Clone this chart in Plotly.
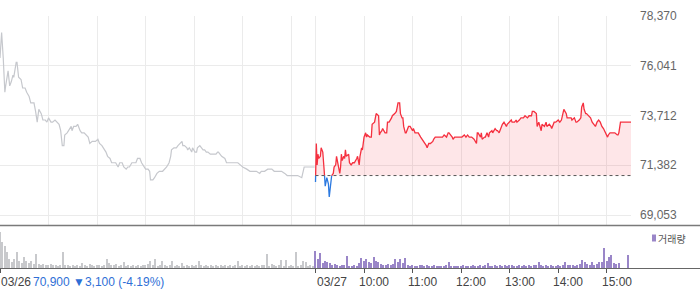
import plotly.graph_objects as go

# ---------------- data ----------------
PREV_CLOSE = 70900
SESSION_MIN = 390  # 09:00-15:30

# 03/26 (minutes after 09:00, price)
day1_min = [0, 2, 4, 6, 7, 10, 12, 14, 16, 17,
            20, 21, 23, 26, 28, 31, 33, 36, 38, 39,
            42, 44, 46, 48, 51, 53, 56, 58, 60, 63,
            65, 68, 70, 73, 75, 77, 79, 80, 83, 85,
            88, 89, 91, 94, 96, 99, 101, 104, 106, 109,
            111, 114, 116, 118, 121, 123, 126, 128, 131, 133,
            136, 138, 141, 143, 146, 148, 151, 153, 156, 158,
            160, 163, 165, 168, 170, 173, 175, 178, 180, 183,
            185, 186, 189, 191, 194, 197, 201, 206, 209, 211,
            212, 215, 218, 220, 222, 225, 226, 228, 231, 232,
            234, 237, 238, 241, 243, 244, 247, 249, 251, 253,
            255, 257, 260, 263, 267, 269, 270, 274, 278, 280,
            284, 288, 293, 294, 297, 300, 305, 309, 312, 317,
            321, 323, 327, 331, 336, 339, 343, 348, 352, 355,
            360, 364, 368, 373, 374, 376, 380, 386, 389]
day1_price = [76400, 77600, 76400, 74800, 75100, 75800, 75100, 75300, 75600, 75500,
              76200, 76200, 75500, 75400, 75000, 75000, 74800, 74600, 74300, 74300,
              74300, 73900, 73400, 74000, 73800, 73500, 73500, 73400, 73600, 73400,
              73400, 73500, 73400, 73300, 73000, 72300, 72300, 72800, 72900, 73000,
              73200, 73000, 73200, 73200, 73300, 73000, 72900, 72900, 72800, 72700,
              72400, 72500, 72500, 72500, 72600, 72400, 72300, 72200, 72000, 71800,
              71700, 71500, 71500, 71500, 71300, 71500, 71500, 71300, 71200, 71300,
              71300, 71500, 71500, 71500, 71700, 71700, 71500, 71300, 71200, 71200,
              71100, 70700, 70700, 70800, 71000, 71100, 71100, 71300, 71500, 71800,
              72100, 72200, 72200, 72300, 72400, 72500, 72300, 72300, 72200, 72100,
              72200, 72000, 72200, 72000, 72000, 72200, 72300, 72200, 72100, 72100,
              72000, 72000, 71900, 71900, 71900, 72000, 72000, 71800, 71700, 71500,
              71500, 71500, 71500, 71500, 71400, 71300, 71200, 71100, 71100, 71100,
              71000, 71100, 71100, 71200, 71200, 71100, 71100, 71100, 71000, 70900,
              70900, 70900, 70900, 70800, 71000, 71300, 71300, 71300, 71300]

# 03/27
day2_min = [0, 1, 2, 3, 4, 6, 7, 9, 10, 11,
            12, 14, 15, 16, 17, 19, 20, 22, 23, 25,
            26, 27, 28, 30, 31, 32, 33, 35, 36, 37,
            38, 41, 42, 44, 46, 48, 51, 52, 54, 55,
            57, 58, 60, 62, 63, 64, 67, 69, 70, 73,
            75, 78, 79, 80, 82, 83, 86, 88, 89, 91,
            94, 95, 98, 100, 102, 104, 105, 107, 108, 109,
            111, 112, 115, 117, 120, 121, 123, 125, 127, 130,
            132, 133, 137, 138, 140, 142, 145, 146, 148, 151,
            154, 157, 159, 162, 164, 165, 169, 170, 172, 174,
            175, 178, 180, 181, 184, 186, 188, 190, 193, 196,
            199, 200, 201, 204, 205, 206, 209, 210, 212, 214,
            215, 218, 219, 222, 224, 225, 227, 230, 231, 233,
            236, 237, 239, 242, 243, 246, 248, 249, 252, 254,
            257, 259, 262, 264, 267, 268, 270, 273, 274, 276,
            279, 280, 283, 285, 286, 289, 291, 292, 295, 297,
            300, 302, 304, 305, 307, 310, 311, 314, 316, 317,
            320, 322, 323, 326, 328, 329, 331, 332, 334, 335,
            338, 340, 342, 344, 346, 348, 350, 352, 354, 356,
            359, 361, 362, 364, 366, 368, 370, 373, 374, 375,
            377, 379, 384, 390]
day2_price = [70600, 72400, 71400, 71900, 71700, 71800, 72200, 72000, 71500, 71000,
              70400, 70800, 70600, 70500, 69900, 70800, 70900, 71000, 71300, 71400,
              71800, 71600, 71300, 71000, 71300, 71900, 71600, 71800, 71700, 72100,
              71800, 71900, 71500, 71400, 71500, 71500, 71700, 71800, 71400, 71800,
              72200, 72100, 72700, 72900, 72700, 72800, 72700, 72700, 73300, 73400,
              73800, 73700, 72800, 72900, 73000, 73100, 72900, 72900, 73400, 73400,
              73600, 73700, 73800, 73900, 74300, 74300, 73800, 73600, 73600, 73200,
              72900, 72900, 73200, 73200, 73000, 73100, 72900, 72900, 72900, 72700,
              72600, 72500, 72300, 72200, 72400, 72400, 72500, 72600, 72700, 72700,
              72700, 72700, 72800, 72700, 72900, 72900, 72700, 72600, 72700, 72700,
              72700, 72700, 72700, 72700, 72800, 72700, 72800, 72700, 72700, 72600,
              72400, 72900, 72900, 72700, 72900, 72600, 72700, 72700, 72900, 72700,
              72900, 73000, 72900, 73100, 73000, 73000, 72900, 73200, 73300, 73400,
              73200, 73300, 73400, 73500, 73400, 73400, 73500, 73400, 73500, 73600,
              73600, 73700, 73600, 73700, 73700, 73900, 73900, 73800, 73200, 73400,
              73000, 73300, 73200, 73400, 73200, 73300, 73200, 73100, 73400, 73400,
              73500, 73400, 73500, 73700, 74000, 73800, 73600, 73600, 73600, 73500,
              73600, 73400, 73400, 73500, 73600, 74100, 74300, 74000, 73800, 73800,
              73700, 73600, 73400, 73300, 73200, 73400, 73500, 73400, 73200, 73100,
              72900, 72700, 72800, 72900, 72900, 72900, 72900, 72800, 72800, 72900,
              73400, 73400, 73400, 73400]

# volume (thousand shares), one bar per 3 minutes
VOL_STEP = 3
vol_day1 = [720, 520, 440, 320, 180, 120, 180, 320, 140, 100,
            220, 140, 100, 140, 80, 280, 80, 60, 80, 60,
            60, 80, 60, 60, 40, 60, 320, 60, 60, 40,
            60, 40, 60, 40, 100, 60, 40, 80, 60, 40,
            60, 60, 40, 60, 180, 100, 60, 60, 80, 40,
            60, 120, 40, 60, 40, 60, 40, 60, 40, 60,
            60, 80, 140, 60, 180, 40, 60, 140, 60, 40,
            60, 140, 40, 60, 40, 100, 40, 60, 40, 60,
            40, 60, 140, 60, 40, 60, 40, 60, 40, 60,
            40, 60, 40, 60, 40, 60, 40, 60, 140, 40,
            60, 40, 60, 40, 60, 40, 60, 40, 60, 60,
            280, 40, 80, 60, 40, 60, 160, 40, 160, 40,
            60, 40, 320, 40, 60, 140, 120, 40, 60, 40]
vol_day2 = [340, 180, 300, 100, 140, 120, 100, 60, 80, 60,
            40, 60, 60, 240, 40, 40, 60, 40, 100, 200,
            140, 180, 120, 100, 220, 140, 120, 80, 60, 60,
            80, 60, 80, 180, 120, 180, 100, 200, 60, 40,
            60, 40, 40, 60, 60, 40, 60, 40, 40, 60,
            40, 40, 40, 40, 60, 120, 40, 40, 40, 40,
            40, 60, 40, 40, 40, 60, 40, 40, 60, 40,
            60, 100, 40, 40, 60, 40, 60, 40, 60, 40,
            60, 60, 40, 40, 60, 40, 60, 40, 60, 40,
            60, 60, 120, 60, 40, 60, 40, 60, 40, 40,
            60, 40, 60, 120, 60, 60, 60, 40, 60, 80,
            160, 120, 80, 60, 120, 60, 80, 120, 120, 400,
            140, 220, 260, 100, 80, 100, 0, 0, 0, 260]

ytick_vals = [69053, 71382, 73712, 76041, 78370]
xtick_min = [0, 390, 450, 510, 570, 630, 690, 750]
xtick_text = ["03/26", "03/27", "10:00", "11:00", "12:00", "13:00", "14:00", "15:00"]
price_label = "70,900 ▼3,100 (-4.19%)"
legend_label = "거래량"

# ---------------- colours / geometry ----------------
W, H = 700, 289
ML, MR, MT, MB = 0, 69, 16, 21
PW, PH = W - ML - MR, H - MT - MB
MAIN_BOTTOM_PX = 225


def px_x(px):
    return (px - ML) / PW


def px_y(py):
    return (H - MB - py) / PH


RED = "#f5303f"
BLUE = "#2b79e0"
GRAY = "#c6c8cd"
PURPLE = "#9a86c8"
VGRAY = "#c8c9cc"
GRID = "#ebebeb"

x1 = list(day1_min)
x2 = [SESSION_MIN + m for m in day2_min]


def split_by_base(xs, ys, base):
    """Split a polyline into above/below runs, inserting the crossing points."""
    rx, ry, bx, by = [], [], [], []
    ax, ay = [], []
    def side(v):
        return v >= base
    cur = side(ys[0])
    tgt = (rx, ry) if cur else (bx, by)
    tgt[0].append(xs[0]); tgt[1].append(ys[0])
    ax.append(xs[0]); ay.append(ys[0])
    for i in range(1, len(xs)):
        s = side(ys[i])
        if s != cur:
            x0, y0, xx, yy = xs[i - 1], ys[i - 1], xs[i], ys[i]
            xc = x0 + (base - y0) * (xx - x0) / (yy - y0)
            tgt[0].append(xc); tgt[1].append(base)
            tgt[0].append(None); tgt[1].append(None)
            cur = s
            tgt = (rx, ry) if cur else (bx, by)
            tgt[0].append(xc); tgt[1].append(base)
            ax.append(xc); ay.append(base)
        tgt[0].append(xs[i]); tgt[1].append(ys[i])
        ax.append(xs[i]); ay.append(ys[i])
    return rx, ry, bx, by, ax, ay


rx, ry, bx, by, ax, ay = split_by_base(x2, day2_price, PREV_CLOSE)

fig = go.Figure()

fig.add_trace(go.Scatter(x=x1, y=day1_price, mode="lines",
                         line=dict(color=GRAY, width=1.2), xaxis="x", yaxis="y",
                         hoverinfo="skip"))
fig.add_trace(go.Scatter(x=ax, y=[PREV_CLOSE] * len(ax), mode="lines",
                         line=dict(width=0, color="rgba(0,0,0,0)"),
                         xaxis="x", yaxis="y", hoverinfo="skip"))
fig.add_trace(go.Scatter(x=ax, y=[max(v, PREV_CLOSE) for v in ay], mode="lines",
                         line=dict(width=0, color="rgba(0,0,0,0)"),
                         fill="tonexty", fillcolor="rgba(245,60,80,0.13)",
                         xaxis="x", yaxis="y", hoverinfo="skip"))
fig.add_trace(go.Scatter(x=bx, y=by, mode="lines",
                         line=dict(color=BLUE, width=1.3), xaxis="x", yaxis="y",
                         hoverinfo="skip"))
fig.add_trace(go.Scatter(x=rx, y=ry, mode="lines",
                         line=dict(color=RED, width=1.3), xaxis="x", yaxis="y",
                         hoverinfo="skip"))

vx1 = [i * VOL_STEP for i in range(len(vol_day1))]
vx2 = [SESSION_MIN + i * VOL_STEP for i in range(len(vol_day2))]
fig.add_trace(go.Bar(x=vx1, y=vol_day1, width=1.8, marker=dict(color=VGRAY, line=dict(width=0)),
                     xaxis="x2", yaxis="y2", hoverinfo="skip"))
fig.add_trace(go.Bar(x=vx2, y=vol_day2, width=1.8, marker=dict(color=PURPLE, line=dict(width=0)),
                     xaxis="x2", yaxis="y2", hoverinfo="skip"))

y_lo = 69053 - (78370 - 69053) / (MAIN_BOTTOM_PX - 16 - 10) * 10
grid_min = [60, 120, 180, 240, 300, 360, 390, 450, 510, 570, 630, 690, 750]

fig.update_layout(
    width=W, height=H, margin=dict(l=ML, r=MR, t=MT, b=MB),
    paper_bgcolor="white", plot_bgcolor="white", showlegend=False,
    bargap=0,
    xaxis=dict(domain=[0, 1], range=[0, 2 * SESSION_MIN], anchor="y",
               tickvals=grid_min, showticklabels=False, showgrid=True,
               gridcolor=GRID, gridwidth=1, zeroline=False, ticks="", fixedrange=True),
    yaxis=dict(domain=[px_y(MAIN_BOTTOM_PX), 1], range=[y_lo, 78370], side="right",
               tickvals=ytick_vals, ticktext=[f"{v:,}" for v in ytick_vals],
               showgrid=True, gridcolor=GRID, gridwidth=1, zeroline=False,
               ticks="", ticklabelstandoff=8,
               tickfont=dict(family="Liberation Sans, Arial", size=12, color="#666")),
    xaxis2=dict(domain=[0, 1], range=[0, 2 * SESSION_MIN], anchor="y2",
                tickvals=xtick_min, showticklabels=False, showgrid=False,
                ticks="outside", ticklen=4, tickcolor="#555", tickwidth=1,
                zeroline=False, showline=False),
    yaxis2=dict(domain=[0, px_y(226)], range=[0, 840], visible=False),
)

shapes = [
    dict(type="line", xref="paper", yref="paper", x0=0, x1=W / PW, y0=px_y(225.5), y1=px_y(225.5),
         line=dict(color="#7a7a7a", width=1.5)),
    dict(type="line", xref="paper", yref="paper", x0=0, x1=W / PW, y0=px_y(268.5), y1=px_y(268.5),
         line=dict(color="#666", width=1)),
    dict(type="line", xref="x", yref="y", x0=SESSION_MIN, x1=2 * SESSION_MIN,
         y0=PREV_CLOSE, y1=PREV_CLOSE, line=dict(color="#555", width=1, dash="dot")),
    dict(type="rect", xref="paper", yref="paper", x0=px_x(652), x1=px_x(656),
         y0=px_y(241.5), y1=px_y(234.5), fillcolor=PURPLE, line=dict(width=0)),
]
fig.update_layout(shapes=shapes)

annotations = []
for m, t in zip(xtick_min, xtick_text):
    shift = 0 if "/" in t else -6
    annotations.append(dict(x=m, xref="x2", y=px_y(282), yref="paper", text=t,
                            showarrow=False, xanchor="left", yanchor="middle", xshift=shift - 1,
                            font=dict(family="Liberation Sans, Arial", size=12, color="#444")))
annotations.append(dict(x=px_x(31), xref="paper", y=px_y(282), yref="paper", text=price_label,
                        showarrow=False, xanchor="left", yanchor="middle",
                        font=dict(family="Liberation Sans, Arial", size=12, color="#2f6fd6")))
annotations.append(dict(x=px_x(656), xref="paper", y=px_y(238), yref="paper", text=legend_label,
                        showarrow=False, xanchor="left", yanchor="middle",
                        font=dict(family="Noto Sans CJK KR", size=10, color="#555")))
fig.update_layout(annotations=annotations)

fig.write_html("out.html")
